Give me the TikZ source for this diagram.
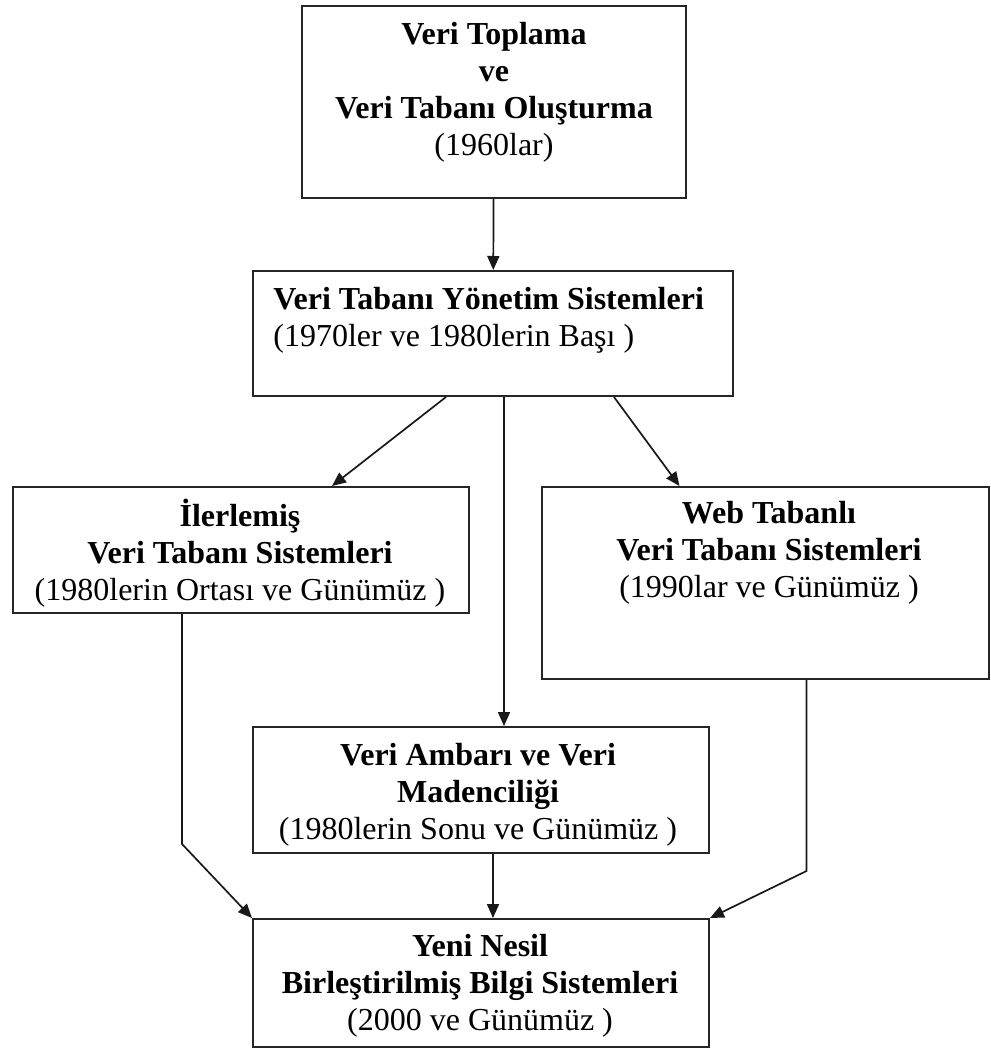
\documentclass[tikz,border=0pt]{standalone}
\usepackage{fontspec}
\setmainfont{Liberation Serif}
\usetikzlibrary{arrows.meta,calc}
\tikzset{
  kutu/.style={draw=black!85, line width=1pt, inner sep=0pt},
  yazi/.style={align=center, inner sep=0pt, font=\fontsize{16}{18.5}\selectfont},
  ok/.style={draw=black!90, line width=0.85pt, -{Triangle[length=7pt,width=6pt]}}
}
\begin{document}
\begin{tikzpicture}[x=0.5pt,y=-0.5pt]
    \useasboundingbox (0,0) rectangle (991,1051);

    % Draw the boxes
    \node[kutu, minimum width=192pt, minimum height=96pt] (b1) at (494,102) {};
    \node[kutu, minimum width=240pt, minimum height=62.5pt] (b2) at (493,333.5) {};
    \node[kutu, minimum width=228pt, minimum height=63pt] (b3) at (241,550) {};
    \node[kutu, minimum width=223.5pt, minimum height=96pt] (b4) at (765.5,583) {};
    \node[kutu, minimum width=228pt, minimum height=63pt] (b5) at (481,790) {};
    \node[kutu, minimum width=228pt, minimum height=64pt] (b6) at (481,983) {};

    % Texts inside the boxes
    \node[yazi] (t1) at (494,92) {\textbf{Veri Toplama}\\\textbf{ve}\\\textbf{Veri Tabanı Oluşturma}\\(1960lar)};
    \node[yazi, align=left, anchor=west] (t2) at (273,320) {\textbf{Veri Tabanı Yönetim Sistemleri}\\(1970ler ve 1980lerin Başı )};
    \node[yazi] (t3) at (240,553) {\textbf{İlerlemiş}\\\textbf{Veri Tabanı Sistemleri}\\(1980lerin Ortası ve Günümüz )};
    \node[yazi] (t4) at (769,553) {\textbf{Web Tabanlı}\\\textbf{Veri Tabanı Sistemleri}\\(1990lar ve Günümüz )};
    \node[yazi] (t5) at (478,795) {\textbf{Veri Ambarı ve Veri}\\\textbf{Madenciliği}\\(1980lerin Sonu ve Günümüz )};
    \node[yazi] (t6) at (480,986) {\textbf{Yeni Nesil}\\\textbf{Birleştirilmiş Bilgi Sistemleri}\\(2000 ve Günümüz )};

    % Arrows between the boxes
    \draw[ok] (b1) -- (b2);
    \draw[ok] ($(b2.south)+(-47,0)$) -- ($(b3.north)+(91,0)$);
    \draw[ok] ($(b2.south)+(11,0)$) coordinate (m1) -- (m1 |- b5.north);
    \draw[ok] ($(b2.south)+(121,0)$) -- ($(b4.north)+(-86,0)$);
    \draw[ok] ($(b3.south)+(-59,0)$) -- ++(0,230) -- (b6.north west);
    \draw[ok] ($(b5.south)+(12,0)$) coordinate (m2) -- (m2 |- b6.north);
    \draw[ok] ($(b4.south)+(41,0)$) -- ++(0,191) -- (b6.north east);
\end{tikzpicture}
\end{document}
